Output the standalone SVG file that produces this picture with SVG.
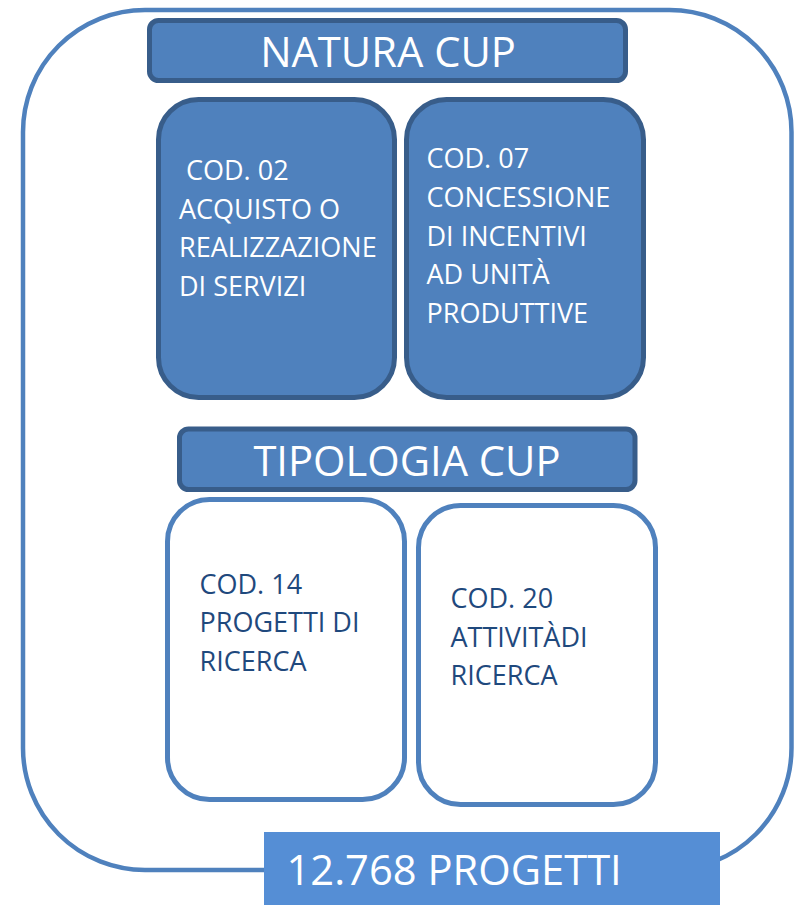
<svg xmlns="http://www.w3.org/2000/svg" width="796" height="905" viewBox="0 0 796 905">
  <style>
    .outer { fill: #ffffff; stroke: #4f81bd; stroke-width: 4.5; }
    .hdr { fill: #4f81bd; stroke: #385d8a; stroke-width: 5; }
    .card { fill: #4f81bd; stroke: #385d8a; stroke-width: 5; }
    .wcard { fill: #ffffff; stroke: #4f81bd; stroke-width: 5; }
    .total { fill: #558ed5; }
    .big { font-family: "Open Sans", "Liberation Sans", sans-serif; font-size: 41.7px; fill: #ffffff; }
    .wt { font-family: "Open Sans", "Liberation Sans", sans-serif; font-size: 27px; fill: #ffffff; }
    .bt { font-family: "Open Sans", "Liberation Sans", sans-serif; font-size: 27px; fill: #1f497d; }
  </style>
  <g id="container">
    <rect class="outer" x="23" y="10" width="768.5" height="860" rx="122" ry="122"/>
  </g>
  <g id="natura-header">
    <rect class="hdr" x="149.5" y="20.5" width="476" height="60" rx="9" ry="9"/>
    <text class="big" x="388" y="67" text-anchor="middle">NATURA CUP</text>
  </g>
  <g id="cod02">
    <rect class="card" x="158.5" y="99.5" width="236" height="298" rx="40" ry="40"/>
    <text class="wt" x="186" y="180">COD. 02</text>
    <text class="wt" x="179" y="218.5">ACQUISTO O</text>
    <text class="wt" x="179" y="257">REALIZZAZIONE</text>
    <text class="wt" x="179" y="295.5">DI SERVIZI</text>
  </g>
  <g id="cod07">
    <rect class="card" x="406.5" y="99.5" width="237" height="298" rx="40" ry="40"/>
    <text class="wt" x="426.5" y="168">COD. 07</text>
    <text class="wt" x="426.5" y="206.8">CONCESSIONE</text>
    <text class="wt" x="426.5" y="245.5">DI INCENTIVI</text>
    <text class="wt" x="426.5" y="284.3">AD UNITÀ</text>
    <text class="wt" x="426.5" y="323">PRODUTTIVE</text>
  </g>
  <g id="tipologia-header">
    <rect class="hdr" x="179.5" y="429" width="455.5" height="60.5" rx="9" ry="9"/>
    <text class="big" x="407" y="476" text-anchor="middle">TIPOLOGIA CUP</text>
  </g>
  <g id="cod14">
    <rect class="wcard" x="167.5" y="499.5" width="237" height="300" rx="42" ry="42"/>
    <text class="bt" x="199.5" y="594">COD. 14</text>
    <text class="bt" x="199.5" y="632.3">PROGETTI DI</text>
    <text class="bt" x="199.5" y="670.6">RICERCA</text>
  </g>
  <g id="cod20">
    <rect class="wcard" x="418.5" y="505.5" width="237" height="299" rx="42" ry="42"/>
    <text class="bt" x="450.5" y="608.3">COD. 20</text>
    <text class="bt" x="450.5" y="646.7">ATTIVITÀDI</text>
    <text class="bt" x="450.5" y="685">RICERCA</text>
  </g>
  <g id="total">
    <rect class="total" x="264" y="832" width="456" height="73"/>
    <text class="big" x="286.5" y="885">12.768 PROGETTI</text>
  </g>
  <g id="connectors"/>
</svg>
